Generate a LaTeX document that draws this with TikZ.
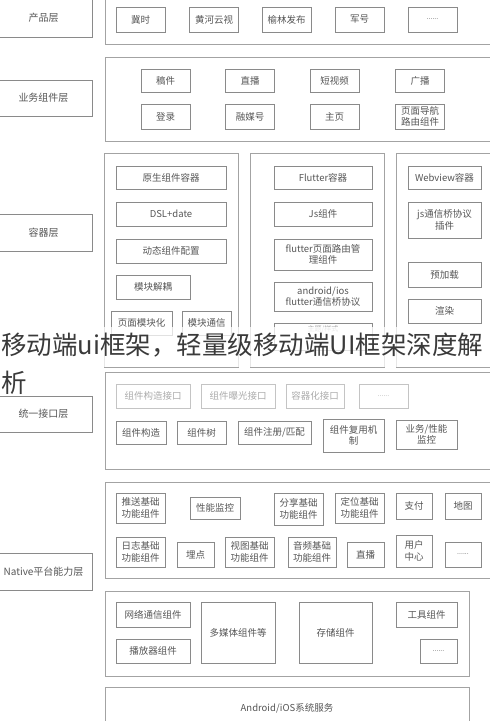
\documentclass[tikz,border=0pt]{standalone}
\usepackage{fontspec}
\setmainfont{Noto Sans CJK SC}
\newfontfamily\markfont{Noto Sans CJK SC}
\definecolor{linegray}{HTML}{8A8A8A}
\definecolor{groupgray}{HTML}{A3A3A3}
\definecolor{textgray}{HTML}{555555}
\definecolor{fadegray}{HTML}{ABABAB}
\definecolor{markgray}{HTML}{3A3A3A}
\newcommand{\moredots}{{\fontsize{7}{8}\selectfont......}}

\begin{document}
\begin{tikzpicture}[x=1pt,y=-1pt,
		layer/.style={draw=linegray,line width=0.8pt,text=textgray,font=\fontsize{10}{12}\selectfont,minimum width=97pt,inner sep=0pt},
		group/.style={draw=groupgray,line width=0.8pt,inner sep=0pt},
		item/.style={draw=linegray,line width=0.8pt,text=textgray,font=\fontsize{9.5}{11.5}\selectfont,align=center,inner sep=0pt},
		faint/.style={item,draw=fadegray!70,text=fadegray}]
	\useasboundingbox (0,0) rectangle (490,721);
	\node[layer,minimum height=39pt] (product) at (43.5,17.5) {产品层};
	\node[layer,minimum height=36pt] (business) at (43.5,98) {业务组件层};
	\node[layer,minimum height=37pt] (container) at (43.5,232.5) {容器层};
	\node[layer,minimum height=36pt] (interface) at (43.5,414) {统一接口层};
	\node[layer,minimum height=37pt] (native) at (43.5,571.5) {Native平台能力层};
	\node[group,minimum width=390pt,minimum height=46pt] (prodgroup) at (300,21) {};
	\node[group,minimum width=390pt,minimum height=84pt] (bizgroup) at (300,99) {};
	\node[group,minimum width=134pt,minimum height=214pt] (nativecol) at (171,260) {};
	\node[group,minimum width=134pt,minimum height=214pt] (fluttercol) at (317,260) {};
	\node[group,minimum width=104pt,minimum height=214pt] (webcol) at (448,260) {};
	\node[group,minimum width=390pt,minimum height=97pt] (ifgroup) at (300,420.5) {};
	\node[group,minimum width=390pt,minimum height=96pt] (basegroup) at (300,530) {};
	\node[group,minimum width=364pt,minimum height=85pt] (libgroup) at (287,633.5) {};
	\node[group,minimum width=364pt,minimum height=43pt,text=textgray,font=\fontsize{9.5}{11.5}\selectfont] (system) at (287,708.5) {Android/iOS系统服务};
	\node[item,minimum width=49pt,minimum height=25pt] (jishi) at (140.5,19.5) {冀时};
	\node[item,minimum width=49pt,minimum height=25pt] (huanghe) at (214,19.5) {黄河云视};
	\node[item,minimum width=49pt,minimum height=25pt] (yulin) at (286.5,19.5) {榆林发布};
	\node[item,minimum width=49pt,minimum height=25pt] (junhao) at (359.5,19.5) {军号};
	\node[item,minimum width=49pt,minimum height=25pt] (prodmore) at (432.5,19.5) {\moredots};
	\node[item,minimum width=49pt,minimum height=23pt] (gaojian) at (165.5,80.5) {稿件};
	\node[item,minimum width=49pt,minimum height=23pt] (zhibo) at (250,80.5) {直播};
	\node[item,minimum width=49pt,minimum height=23pt] (duanshipin) at (334.5,80.5) {短视频};
	\node[item,minimum width=49pt,minimum height=23pt] (guangbo) at (420,80.5) {广播};
	\node[item,minimum width=49pt,minimum height=25pt] (denglu) at (165.5,116.5) {登录};
	\node[item,minimum width=49pt,minimum height=25pt] (rongmei) at (250,116.5) {融媒号};
	\node[item,minimum width=49pt,minimum height=25pt] (zhuye) at (334.5,116.5) {主页};
	\node[item,minimum width=49pt,minimum height=25pt] (daohang) at (420,116.5) {页面导航\\路由组件};
	\node[item,minimum width=110pt,minimum height=23pt] (yuansheng) at (171,177.5) {原生组件容器};
	\node[item,minimum width=110pt,minimum height=24pt] (dsl) at (171,214) {DSL+date};
	\node[item,minimum width=110pt,minimum height=24pt] (dongtai) at (171,251) {动态组件配置};
	\node[item,minimum width=74pt,minimum height=24pt] (jieou) at (153,287) {模块解耦};
	\node[item,minimum width=61pt,minimum height=24pt] (mokuaihua) at (141.5,323) {页面模块化};
	\node[item,minimum width=49pt,minimum height=24pt] (tongxin) at (206.5,323) {模块通信};
	\node[item,minimum width=98pt,minimum height=23pt] (flutter) at (323,177.5) {Flutter容器};
	\node[item,minimum width=98pt,minimum height=24pt] (jszujian) at (323,214) {Js组件};
	\node[item,minimum width=98pt,minimum height=31pt] (luyou) at (323,254.5) {flutter页面路由管\\理组件};
	\node[item,minimum width=98pt,minimum height=29pt] (qiao) at (323,296.5) {android/ios\\flutter通信桥协议};
	\node[item,minimum width=98pt,minimum height=27pt,text=fadegray,font=\fontsize{7}{8}\selectfont,anchor=north,text depth=16pt] (zhuti) at (323,323) {主题/样式};
	\node[item,minimum width=73pt,minimum height=23pt] (webview) at (444.5,177.5) {Webview容器};
	\node[item,minimum width=73pt,minimum height=36pt] (jsqiao) at (444.5,220) {js通信桥协议\\插件};
	\node[item,minimum width=73pt,minimum height=25pt] (yujiazai) at (444.5,274.5) {预加载};
	\node[item,minimum width=73pt,minimum height=24pt] (xuanran) at (444.5,311) {渲染};
	\node[fill=white,fill opacity=0.75,minimum width=490pt,minimum height=40pt,inner sep=0pt] (band) at (245,347) {};
	\node[text=markgray,font=\markfont\fontsize{25.5}{38}\selectfont,align=left,anchor=north west,inner sep=0pt] (title) at (1,333) {移动端ui框架，轻量级移动端UI框架深度解\\析};
	\node[faint,minimum width=74pt,minimum height=24pt] (gouzaojk) at (153,396) {组件构造接口};
	\node[faint,minimum width=74pt,minimum height=24pt] (baoguangjk) at (238,396) {组件曝光接口};
	\node[faint,minimum width=58pt,minimum height=24pt] (rongqijk) at (315,396) {容器化接口};
	\node[faint,minimum width=49pt,minimum height=24pt] (jkmore) at (383.5,396) {\moredots};
	\node[item,minimum width=50pt,minimum height=23pt] (gouzao) at (141,432.5) {组件构造};
	\node[item,minimum width=49pt,minimum height=23pt] (zujianshu) at (201.5,432.5) {组件树};
	\node[item,minimum width=73pt,minimum height=23pt] (zhuce) at (274.5,432.5) {组件注册/匹配};
	\node[item,minimum width=61pt,minimum height=33pt] (fuyong) at (353.5,435.5) {组件复用机\\制};
	\node[item,minimum width=61pt,minimum height=29pt] (jiankong) at (426.5,434.5) {业务/性能\\监控};
	\node[item,minimum width=49pt,minimum height=30pt] (tuisong) at (140.5,508) {推送基础\\功能组件};
	\node[item,minimum width=50pt,minimum height=22pt] (xingneng) at (215,508) {性能监控};
	\node[item,minimum width=49pt,minimum height=32pt] (fenxiang) at (298.5,509) {分享基础\\功能组件};
	\node[item,minimum width=49pt,minimum height=30pt] (dingwei) at (359.5,508) {定位基础\\功能组件};
	\node[item,minimum width=36pt,minimum height=26pt] (zhifu) at (414,506) {支付};
	\node[item,minimum width=36pt,minimum height=26pt] (ditu) at (463,506) {地图};
	\node[item,minimum width=49pt,minimum height=30pt] (rizhi) at (140.5,552) {日志基础\\功能组件};
	\node[item,minimum width=37pt,minimum height=25pt] (maidian) at (195.5,554.5) {埋点};
	\node[item,minimum width=49pt,minimum height=30pt] (shitu) at (249.5,552) {视图基础\\功能组件};
	\node[item,minimum width=48pt,minimum height=30pt] (yinpin) at (312,552) {音频基础\\功能组件};
	\node[item,minimum width=37pt,minimum height=25pt] (zhibonative) at (365.5,554.5) {直播};
	\node[item,minimum width=36pt,minimum height=32pt] (yonghu) at (414,551) {用户\\中心};
	\node[item,minimum width=36pt,minimum height=25pt] (basemore) at (463,554.5) {\moredots};
	\node[item,minimum width=74pt,minimum height=25pt] (wangluo) at (153,614.5) {网络通信组件};
	\node[item,minimum width=74pt,minimum height=24pt] (bofangqi) at (153,651) {播放器组件};
	\node[item,minimum width=74pt,minimum height=61pt] (duomeiti) at (238,632.5) {多媒体组件等};
	\node[item,minimum width=73pt,minimum height=61pt] (cunchu) at (335.5,632.5) {存储组件};
	\node[item,minimum width=61pt,minimum height=25pt] (gongju) at (426.5,614.5) {工具组件};
	\node[item,minimum width=37pt,minimum height=24pt] (libmore) at (438.5,651) {\moredots};
\end{tikzpicture}
\end{document}
